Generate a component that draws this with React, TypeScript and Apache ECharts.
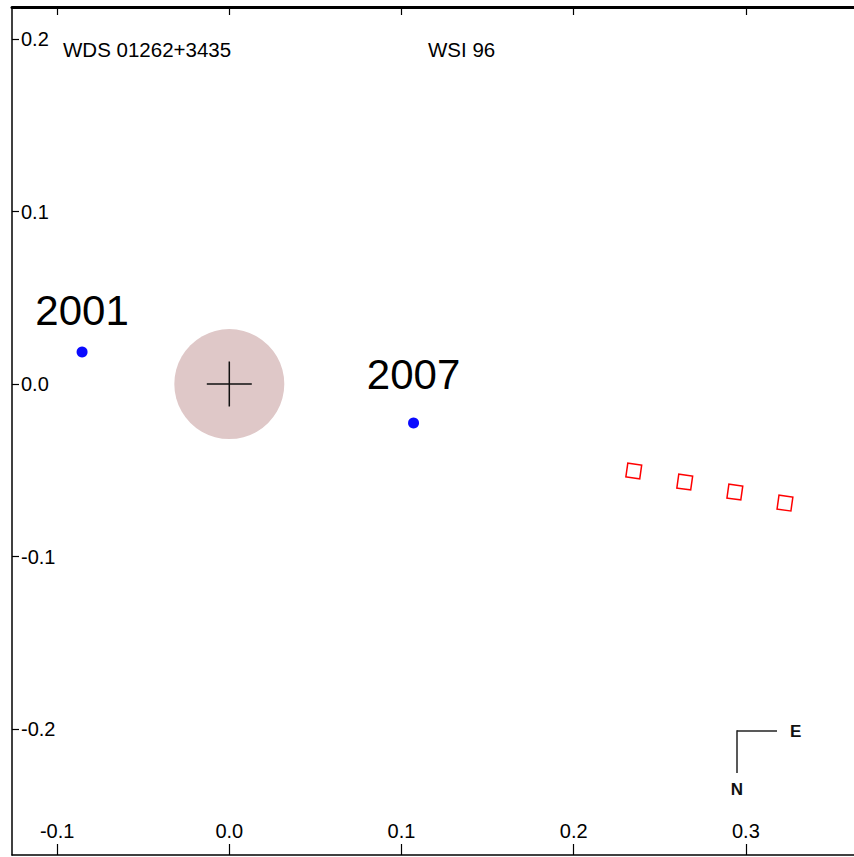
import React, { useEffect, useRef } from "react";
import * as echarts from "echarts";

const xTicks = [-0.1, 0.0, 0.1, 0.2, 0.3];
const yTicks = [-0.2, -0.1, 0.0, 0.1, 0.2];
const obsYears = ["2001", "2007"];
const obsX = [-0.0855, 0.107];
const obsY = [0.0186, -0.0226];
const ephX = [0.2349, 0.2645, 0.2936, 0.3227];
const ephY = [-0.0504, -0.0568, -0.0626, -0.069];
const primaryX = [0.0];
const primaryY = [0.0];
const titleLeft = "WDS 01262+3435";
const titleRight = "WSI 96";

const X_MIN = -0.1262;
const X_MAX = 0.3628;
const Y_MIN = -0.273;
const Y_MAX = 0.2186;

const FONT = "'Liberation Sans', Arial, Helvetica, sans-serif";

export default function App() {
  const ref = useRef<HTMLDivElement>(null);
  useEffect(() => {
    if (!ref.current) return;
    const chart = echarts.init(ref.current, undefined, { renderer: "svg" });
    const fmt = (v: number) => (Math.abs(v) < 1e-9 ? 0 : v).toFixed(1);
    const labelDist = [15, 22];
    chart.setOption({
      animation: false,
      backgroundColor: "#ffffff",
      grid: { left: 12, right: 0, top: 7, bottom: 2, containLabel: false },
      xAxis: [
        {
          type: "value",
          position: "bottom",
          min: X_MIN,
          max: X_MAX,
          axisLine: { show: true, onZero: false, lineStyle: { color: "#000", width: 1.5 } },
          axisTick: { show: true, inside: true, length: 11, customValues: xTicks, lineStyle: { color: "#000", width: 1.2 } },
          axisLabel: { show: true, inside: true, margin: 14, customValues: xTicks, formatter: fmt, fontSize: 20, color: "#000", fontFamily: FONT },
          splitLine: { show: false },
        },
        {
          type: "value",
          position: "top",
          min: X_MIN,
          max: X_MAX,
          axisLine: { show: true, onZero: false, lineStyle: { color: "#000", width: 3 } },
          axisTick: { show: true, inside: true, length: 8, customValues: xTicks, lineStyle: { color: "#000", width: 1.2 } },
          axisLabel: { show: false },
          splitLine: { show: false },
        },
      ],
      yAxis: [
        {
          type: "value",
          position: "left",
          min: Y_MIN,
          max: Y_MAX,
          axisLine: { show: true, onZero: false, lineStyle: { color: "#000", width: 1.5 } },
          axisTick: { show: true, inside: true, length: 7, customValues: yTicks, lineStyle: { color: "#000", width: 1.2 } },
          axisLabel: { show: true, inside: true, margin: 9, customValues: yTicks, formatter: fmt, fontSize: 20, color: "#000", fontFamily: FONT },
          splitLine: { show: false },
        },
      ],
      series: [
        {
          type: "scatter",
          xAxisIndex: 0,
          yAxisIndex: 0,
          symbol: "circle",
          symbolSize: 110,
          itemStyle: { color: "#dfc8c8", opacity: 1 },
          data: primaryX.map((x, i) => [x, primaryY[i]]),
          z: 1,
          silent: true,
        },
        {
          type: "scatter",
          xAxisIndex: 0,
          yAxisIndex: 0,
          symbol: "path://M0,-1L0,1M-1,0L1,0",
          symbolSize: 45,
          itemStyle: { color: "none", borderColor: "#111", borderWidth: 1.5, opacity: 1 },
          data: primaryX.map((x, i) => [x, primaryY[i]]),
          z: 2,
          silent: true,
        },
        {
          type: "scatter",
          xAxisIndex: 0,
          yAxisIndex: 0,
          symbol: "circle",
          symbolSize: 11,
          itemStyle: { color: "#0a0aff", opacity: 1 },
          data: obsX.map((x, i) => ({
            value: [x, obsY[i]],
            label: {
              show: true,
              position: "top",
              distance: labelDist[i],
              formatter: obsYears[i],
              fontSize: 42,
              color: "#000",
              opacity: 1,
              fontFamily: FONT,
            },
          })),
          z: 3,
        },
        {
          type: "scatter",
          xAxisIndex: 0,
          yAxisIndex: 0,
          symbol: "rect",
          symbolSize: 14,
          symbolRotate: -8,
          itemStyle: { color: "transparent", borderColor: "#ff0000", borderWidth: 1.5, opacity: 1 },
          data: ephX.map((x, i) => [x, ephY[i]]),
          z: 3,
        },
      ],
      graphic: [
        { type: "text", left: 63, top: 39, style: { text: titleLeft, fontSize: 20.5, fill: "#000", fontFamily: FONT } },
        { type: "text", left: 428, top: 39, style: { text: titleRight, fontSize: 20.5, fill: "#000", fontFamily: FONT } },
        { type: "line", shape: { x1: 737, y1: 731, x2: 777, y2: 731 }, style: { stroke: "#222", lineWidth: 1.5 } },
        { type: "line", shape: { x1: 737, y1: 730.25, x2: 737, y2: 773 }, style: { stroke: "#222", lineWidth: 1.5 } },
        { type: "text", x: 790, y: 731, style: { text: "E", fontSize: 17, fontWeight: "bold", fill: "#111", fontFamily: FONT, verticalAlign: "middle" } },
        { type: "text", x: 737, y: 789, style: { text: "N", fontSize: 17, fontWeight: "bold", fill: "#111", fontFamily: FONT, align: "center", verticalAlign: "middle" } },
      ],
    });
    return () => chart.dispose();
  }, []);
  return (
    <div
      ref={ref}
      style={{ position: "absolute", left: 0, top: 0, width: 854, height: 857, background: "#fff" }}
    />
  );
}
